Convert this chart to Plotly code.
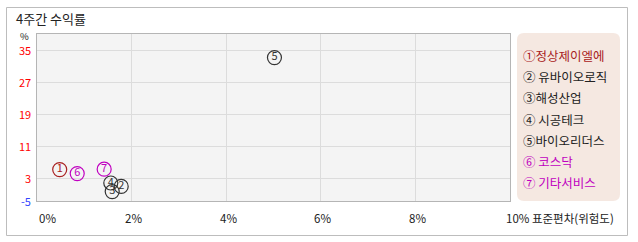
import plotly.graph_objects as go

# ---- data ----
names = ["①정상제이엘에", "② 유바이오로직", "③해성산업", "④ 시공테크", "⑤바이오리더스", "⑥ 코스닥", "⑦ 기타서비스"]
marks = ["1", "2", "3", "4", "5", "6", "7"]
risk = [0.48, 1.78, 1.59, 1.56, 5.02, 0.85, 1.42]      # 표준편차 (%)
ret = [5.1, 0.9, -0.4, 1.75, 33.1, 4.1, 5.2]          # 4주간 수익률 (%)
colors = ["#a82020", "#333333", "#333333", "#333333", "#333333", "#c000c0", "#c000c0"]

x_tick_vals = [0, 2, 4, 6, 8, 10]
x_tick_text = ["0%", "2%", "4%", "6%", "8%", "10% 표준편차(위험도)"]
y_tick_vals = [3, 11, 19, 27, 35]
y_tick_text = ["3", "11", "19", "27", "35"]
y_min_label = "-5"
title = "4주간 수익률"

W, H = 638, 242
L, R, T, B = 37, 510, 34, 201
FONT = "Noto Sans CJK KR, Noto Sans, sans-serif"


def px(x):
    return (x - L) / (R - L)


def py(y):
    return (B - y) / (B - T)


fig = go.Figure()
fig.add_trace(go.Scatter(
    x=risk, y=ret, mode="markers+text", text=marks,
    textposition="middle center",
    textfont=dict(family=FONT, size=11, color=colors),
    marker=dict(symbol="circle-open", size=14, color=colors, line=dict(width=1.2, color=colors)),
    showlegend=False, hoverinfo="skip", cliponaxis=False,
))

shapes = []
# outer frame
shapes.append(dict(type="rect", xref="paper", yref="paper", x0=px(6.5), x1=px(627.5), y0=py(235.5), y1=py(7.5),
                   line=dict(color="#bdbdbd", width=1), fillcolor="rgba(0,0,0,0)", layer="below"))
# legend box (rounded)
lx0, lx1, ly0, ly1, r = 517, 620, 33, 201, 7
path = (f"M {px(lx0 + r)},{py(ly0)} L {px(lx1 - r)},{py(ly0)} Q {px(lx1)},{py(ly0)} {px(lx1)},{py(ly0 + r)} "
        f"L {px(lx1)},{py(ly1 - r)} Q {px(lx1)},{py(ly1)} {px(lx1 - r)},{py(ly1)} "
        f"L {px(lx0 + r)},{py(ly1)} Q {px(lx0)},{py(ly1)} {px(lx0)},{py(ly1 - r)} "
        f"L {px(lx0)},{py(ly0 + r)} Q {px(lx0)},{py(ly0)} {px(lx0 + r)},{py(ly0)} Z")
shapes.append(dict(type="path", xref="paper", yref="paper", path=path, fillcolor="#f5e8e1",
                   line=dict(width=0), layer="below"))

annotations = []
annotations.append(dict(text=title, xref="paper", yref="paper", x=px(15), y=py(18.5), xanchor="left",
                        yanchor="middle", showarrow=False, borderpad=0,
                        font=dict(family=FONT, size=13, color="#222")))
annotations.append(dict(text="%", xref="paper", yref="paper", x=px(30), y=py(35.5), xanchor="right",
                        yanchor="middle", showarrow=False, borderpad=0,
                        font=dict(family=FONT, size=9.5, color="#222")))
# y tick labels
for v, t in zip(y_tick_vals, y_tick_text):
    annotations.append(dict(text=t, xref="paper", yref="y", x=px(32), y=v, xanchor="right", yanchor="middle",
                            showarrow=False, borderpad=0, font=dict(family=FONT, size=11, color="#ff0000")))
annotations.append(dict(text=y_min_label, xref="paper", yref="paper", x=px(32), y=0, xanchor="right",
                        yanchor="middle", showarrow=False, borderpad=0,
                        font=dict(family=FONT, size=11, color="#3344ff")))
# x tick labels
for v, t in zip(x_tick_vals, x_tick_text):
    if v == x_tick_vals[0]:
        xa, shift = "left", 0
    elif v == x_tick_vals[-1]:
        xa, shift = "left", -6
    else:
        xa, shift = "center", 2
    annotations.append(dict(text=t, xref="x", yref="paper", x=v, xshift=shift, y=py(218), xanchor=xa,
                            yanchor="middle", showarrow=False, font=dict(family=FONT, size=11.5, color="#222")))
# legend entries
for i, (n, c) in enumerate(zip(names, colors)):
    yy = 55.5 + i * 21.2
    annotations.append(dict(text=n, xref="paper", yref="paper", x=px(521), y=py(yy), xanchor="left",
                            yanchor="middle", showarrow=False,
                            font=dict(family=FONT, size=12.5, color=c if c != "#333333" else "#222")))

fig.update_layout(
    width=W, height=H,
    margin=dict(l=L, r=W - R, t=T, b=H - B),
    paper_bgcolor="white", plot_bgcolor="#f4f4f4",
    shapes=shapes, annotations=annotations,
    xaxis=dict(range=[0, 10], tickvals=x_tick_vals, showticklabels=False, showgrid=True, gridcolor="#dcdcdc",
               gridwidth=1, zeroline=False, showline=True, linecolor="#b5b5b5", mirror=True, ticks=""),
    yaxis=dict(range=[-2.75, 39], tickvals=y_tick_vals, showticklabels=False, showgrid=True, gridcolor="#dcdcdc",
               gridwidth=1, zeroline=False, showline=True, linecolor="#b5b5b5", mirror=True, ticks=""),
)

fig.write_html("out.html")
